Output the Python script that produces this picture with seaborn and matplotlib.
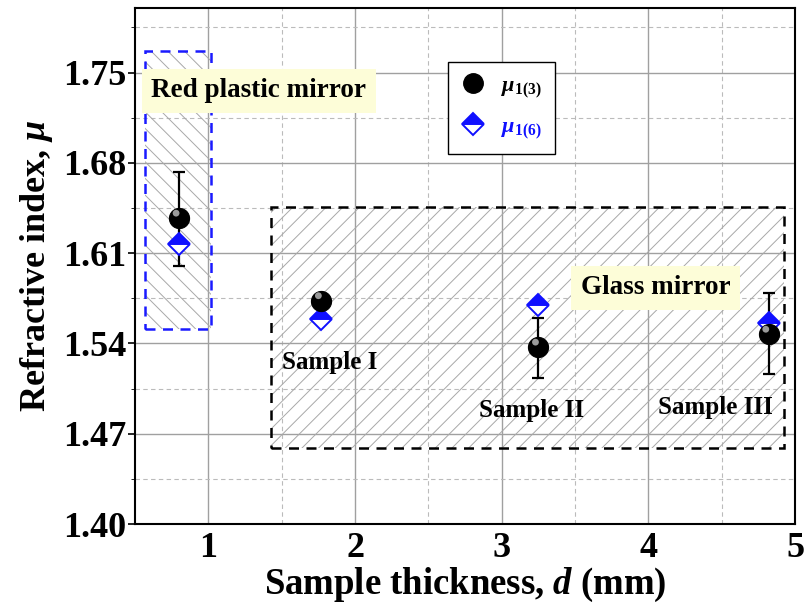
import numpy as np
import pandas as pd
import matplotlib
matplotlib.use("Agg")
import matplotlib.pyplot as plt
import seaborn as sns
from matplotlib.patches import Rectangle
from matplotlib.lines import Line2D

# Measured refractive index versus sample thickness
thickness = [0.80, 1.77, 3.25, 4.82]
mu_13 = [1.637, 1.573, 1.537, 1.547]
mu_13_err_low = [0.037, 0.004, 0.024, 0.031]
mu_13_err_high = [0.036, 0.004, 0.023, 0.032]
mu_16 = [1.617, 1.559, 1.570, 1.556]
sample_names = ["", "Sample I", "Sample II", "Sample III"]

x_ticks = [1, 2, 3, 4, 5]
y_ticks = [1.40, 1.47, 1.54, 1.61, 1.68, 1.75]

sns.set_style("white")
plt.rcParams["font.family"] = ["Liberation Serif", "DejaVu Serif"]
plt.rcParams["font.weight"] = "bold"
plt.rcParams["text.color"] = "black"
plt.rcParams["axes.labelcolor"] = "black"
plt.rcParams["xtick.color"] = "black"
plt.rcParams["ytick.color"] = "black"
plt.rcParams["mathtext.fontset"] = "custom"
plt.rcParams["mathtext.rm"] = "Liberation Serif:bold"
plt.rcParams["mathtext.bf"] = "Liberation Serif:bold"
plt.rcParams["mathtext.it"] = "Liberation Serif:italic:bold"
plt.rcParams["hatch.linewidth"] = 0.7

fig = plt.figure(figsize=(8.06, 6.07), dpi=100)
ax = fig.add_axes([0.1675, 0.1367, 0.819, 0.850])

ax.set_xlim(0.5, 5.0)
ax.set_ylim(1.40, 1.80)
ax.set_xticks(x_ticks)
ax.set_yticks(y_ticks)
ax.set_xticks([1.5, 2.5, 3.5, 4.5], minor=True)
ax.set_yticks([1.435, 1.505, 1.575, 1.645, 1.715, 1.785], minor=True)
ax.set_yticklabels([f"{v:.2f}" for v in y_ticks])
ax.grid(True, which="major", color="#a0a0a0", lw=1.0, ls="-")
ax.grid(True, which="minor", color="#bbbbbb", lw=0.8, ls=(0, (4, 3)))
ax.set_axisbelow(True)
ax.tick_params(axis="both", which="major", labelsize=26, length=5, width=1.2,
               direction="out", bottom=False, left=True, pad=1,
               colors="black")
ax.tick_params(axis="both", which="minor", length=3, left=True, bottom=False)
for lbl in ax.get_xticklabels() + ax.get_yticklabels():
    lbl.set_fontweight("bold")
for s in ax.spines.values():
    s.set_linewidth(1.5)
    s.set_color("black")

# Hatched regions for the two mirror types
ax.add_patch(Rectangle((0.57, 1.551), 0.45, 0.216, fill=False, hatch="\\\\",
                       edgecolor="#a8a8a8", lw=0, zorder=1))
ax.add_patch(Rectangle((0.57, 1.551), 0.45, 0.216, fill=False, edgecolor="#1a1aff",
                       lw=1.8, ls=(0, (4, 3)), zorder=2))
ax.add_patch(Rectangle((1.43, 1.459), 3.495, 0.187, fill=False, hatch="//",
                       edgecolor="#a8a8a8", lw=0, zorder=1))
ax.add_patch(Rectangle((1.43, 1.459), 3.495, 0.187, fill=False, edgecolor="black",
                       lw=1.8, ls=(0, (4, 3)), zorder=2))

box = dict(boxstyle="square,pad=0.35", fc="#fdfdd8", ec="none")
ax.text(0.61, 1.736, "Red plastic mirror", fontsize=19.5, fontweight="bold",
        ha="left", va="center", bbox=box, zorder=3)
ax.text(3.54, 1.583, "Glass mirror", fontsize=19.5, fontweight="bold",
        ha="left", va="center", bbox=box, zorder=3)
label_pos = [None, (1.83, 1.525), (3.20, 1.488), (4.46, 1.490)]
for name, pos in zip(sample_names, label_pos):
    if pos:
        ax.text(pos[0], pos[1], name, fontsize=18, fontweight="bold",
                ha="center", va="center", zorder=3)

df = pd.DataFrame({"d": thickness, "mu13": mu_13, "mu16": mu_16})

ax.errorbar(thickness, mu_13, yerr=[mu_13_err_low, mu_13_err_high], fmt="none",
            ecolor="black", elinewidth=1.6, capsize=4, capthick=1.6, zorder=4)
ax.plot(df["d"], df["mu16"], ls="none", marker="D", ms=11, fillstyle="top",
        markerfacecolor="#1010ff", markerfacecoloralt="white",
        markeredgecolor="#1010ff", markeredgewidth=1.4, zorder=5)
sns.scatterplot(data=df, x="d", y="mu13", ax=ax, s=210, color="black",
                edgecolor="black", linewidth=0.8, zorder=6, legend=False)
sns.scatterplot(x=np.array(thickness) - 0.02, y=np.array(mu_13) + 0.004, ax=ax,
                s=24, color="#9a9a9a", edgecolor="none", zorder=7, legend=False)

ax.set_xlabel("Sample thickness, $d$ (mm)", fontsize=26.5, fontweight="bold", labelpad=0)
ax.set_ylabel("Refractive index, $\\mu$", fontsize=26, fontweight="bold", labelpad=6)

handles = [
    Line2D([], [], ls="none", marker="o", ms=14, color="black"),
    Line2D([], [], ls="none", marker="D", ms=11, fillstyle="top",
           markerfacecolor="#1010ff", markerfacecoloralt="white",
           markeredgecolor="#1010ff", markeredgewidth=1.4),
]
leg = ax.legend(handles, ["$\\mu_{1(3)}$", "$\\mu_{1(6)}$"], loc="upper left",
                bbox_to_anchor=(0.474, 0.895), borderaxespad=0, fontsize=16,
                frameon=True, fancybox=False, edgecolor="black", framealpha=1,
                borderpad=0.6, labelspacing=0.75, handlelength=1.1,
                handletextpad=0.7)
leg.get_frame().set_linewidth(1.0)
leg.get_texts()[1].set_color("#1010ff")
leg.set_zorder(8)

fig.savefig("out.png", dpi=100)
